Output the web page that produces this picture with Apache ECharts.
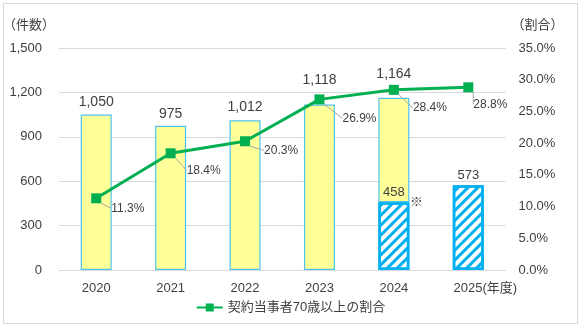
<!DOCTYPE html>
<html><head><meta charset="utf-8">
<script src="https://cdn.jsdelivr.net/npm/echarts@6/dist/echarts.min.js"></script>
<style>html,body{margin:0;padding:0;background:#fff}#c{width:581px;height:327px;position:absolute;left:0;top:0}#b{position:absolute;left:3px;top:3px;width:573px;height:319px;border:1px solid #d9d9d9;pointer-events:none}</style>
</head><body><div id="c"></div><div id="b"></div>
<script>
const categories = ['2020','2021','2022','2023','2024','2025'];
const totals = [1050, 975, 1012, 1118, 1164, null];
const hatched = [null, null, null, null, 458, 573];
const ratio = [11.3, 18.4, 20.3, 26.9, 28.4, 28.8];
const leftTicks = {min: 0, max: 1500, interval: 300};
const rightTicks = {min: 0, max: 35, interval: 5};
const legendName = '契約当事者70歳以上の割合';

const yellowPart = totals.map((t, i) => t == null ? null : t - (hatched[i] || 0));
const font = "'Liberation Sans', 'Noto Sans CJK JP', sans-serif";
const txt = '#404040';
const totalLabelDist = [5, 5, 6, 17, 17, 5];
const pctDx = [2, 3, 6, 10, 6, -8];
const pctDy = [10, 17, 9, 19, 18, 17];

const chart = echarts.init(document.getElementById('c'));
chart.setOption({
  animation: false,
  textStyle: {fontFamily: font},
  grid: {left: 54.5, right: 75.5, top: 48, bottom: 57},
  legend: {
    bottom: 8, left: 'center', data: [legendName], itemWidth: 26, itemHeight: 10,
    textStyle: {fontSize: 13, color: txt, fontFamily: font}
  },
  xAxis: {
    type: 'category', data: categories,
    axisLine: {lineStyle: {color: '#d9d9d9'}}, axisTick: {show: false},
    axisLabel: {
      interval: 0, color: txt, fontSize: 13, margin: 12,
      formatter: (v, i) => i === categories.length - 1 ? '{s|}' + v + '(年度)' : v,
      rich: {s: {width: 34}}
    }
  },
  yAxis: [{
    type: 'value', ...leftTicks,
    name: '（件数）', nameLocation: 'end', nameGap: 16,
    nameTextStyle: {align: 'right', color: txt, fontSize: 13, padding: [0, 4, 0, 0]},
    axisLine: {show: false}, axisTick: {show: false},
    splitLine: {lineStyle: {color: '#d9d9d9'}},
    axisLabel: {color: txt, fontSize: 13, margin: 17, formatter: v => v.toLocaleString('en-US')}
  }, {
    type: 'value', ...rightTicks,
    name: '（割合）', nameLocation: 'end', nameGap: 16,
    nameTextStyle: {align: 'left', color: txt, fontSize: 13, padding: [0, 0, 0, 6]},
    axisLine: {show: false}, axisTick: {show: false}, splitLine: {show: false},
    axisLabel: {color: txt, fontSize: 13, margin: 13, formatter: v => v.toFixed(1) + '%'}
  }],
  series: [{
    type: 'bar', stack: 's', barWidth: 31, z: 2,
    data: hatched.map(v => v),
    itemStyle: {
      color: '#ffffff', borderColor: '#00b0f0', borderWidth: 2.5,
      decal: {symbol: 'rect', dashArrayX: [1, 0], dashArrayY: [3, 4], rotation: -Math.PI / 4, color: '#00b0f0'}
    },
    label: {show: true, position: 'top', distance: 3, color: txt, fontSize: 13}
  }, {
    type: 'bar', stack: 's', barWidth: 31, z: 2,
    data: yellowPart.map((v, i) => v == null ? null : {value: v, label: {distance: totalLabelDist[i]}}),
    itemStyle: {color: '#ffff99', borderColor: '#4fc3ef', borderWidth: 1.2},
    label: {show: true, position: 'top', color: txt, fontSize: 14,
      formatter: p => totals[p.dataIndex].toLocaleString('en-US')}
  }, {
    type: 'scatter', data: hatched.map((v, i) => i === 4 ? v : null), symbolSize: 0, silent: true,
    label: {show: true, position: 'right', offset: [11, 0], formatter: '※', color: '#222', fontSize: 13}
  }, {
    name: legendName, type: 'line', yAxisIndex: 1, data: ratio, z: 5,
    symbol: 'rect', symbolSize: 10,
    lineStyle: {color: '#00b050', width: 3}, itemStyle: {color: '#00b050'},
    label: {show: true, position: 'right', distance: 8, color: txt, fontSize: 12,
      formatter: p => p.value.toFixed(1) + '%'},
    labelLine: {show: true, lineStyle: {color: '#a6a6a6', width: 1}},
    labelLayout: p => ({dx: pctDx[p.dataIndex], dy: pctDy[p.dataIndex]})
  }]
});
</script></body></html>
